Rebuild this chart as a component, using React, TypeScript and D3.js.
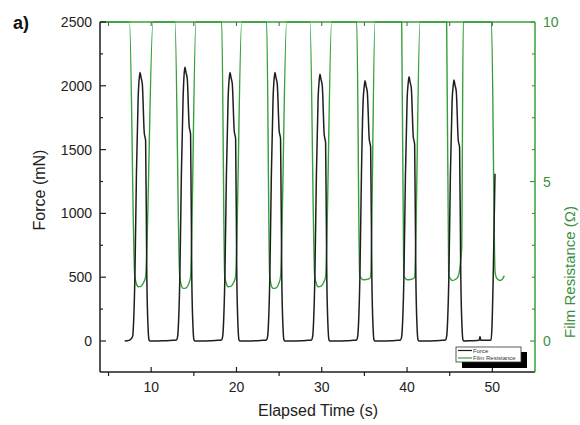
import React from "react";
import * as d3 from "d3";

// axis ticks
const timeTicks = [10, 20, 30, 40, 50];
const timeMinorTicks = [5, 15, 25, 35, 45];
const forceTicks = [0, 500, 1000, 1500, 2000, 2500];
const forceMinorTicks = [250, 750, 1250, 1750, 2250];
const resTicks = [0, 5, 10];
const resMinorTicks = [1, 2, 3, 4, 6, 7, 8, 9];

// Force (mN) vs elapsed time (s)
const force: [number, number][] = [
  [6.9, 0], [7.4, 5], [7.69, 20], [7.84, 40], [7.94, 150], [8.09, 500], [8.27, 1300], [8.47, 1900],
  [8.61, 2065], [8.69, 2105], [8.81, 2065], [8.96, 2015], [9.19, 1630], [9.27, 1600], [9.35, 1570],
  [9.49, 500], [9.64, 100], [9.74, 10], [9.84, 0],
  [10.5, 0], [11.5, 2], [12.5, 5],
  [12.96, 8], [13.11, 40], [13.21, 150], [13.36, 500], [13.54, 1300], [13.74, 1900], [13.88, 2105],
  [13.96, 2145], [14.08, 2105], [14.23, 2055], [14.46, 1680], [14.54, 1650], [14.62, 1620],
  [14.76, 500], [14.91, 100], [15.01, 10], [15.11, 0],
  [16.0, 0], [17.0, 2], [17.8, 5],
  [18.24, 8], [18.39, 40], [18.49, 150], [18.64, 500], [18.82, 1300], [19.02, 1900], [19.16, 2065],
  [19.24, 2105], [19.36, 2065], [19.51, 2015], [19.74, 1645], [19.82, 1615], [19.9, 1585],
  [20.04, 500], [20.19, 100], [20.29, 10], [20.39, 0],
  [21.3, 0], [22.3, 2], [23.1, 5],
  [23.51, 8], [23.66, 40], [23.76, 150], [23.91, 500], [24.09, 1300], [24.29, 1900], [24.43, 2065],
  [24.51, 2105], [24.63, 2065], [24.78, 2015], [25.01, 1645], [25.09, 1615], [25.17, 1585],
  [25.31, 500], [25.46, 100], [25.56, 10], [25.66, 0],
  [26.6, 0], [27.6, 2], [28.4, 5],
  [28.79, 8], [28.94, 40], [29.04, 150], [29.19, 500], [29.37, 1300], [29.57, 1900], [29.71, 2050],
  [29.79, 2090], [29.91, 2050], [30.06, 2000], [30.29, 1615], [30.37, 1585], [30.45, 1555],
  [30.59, 500], [30.74, 100], [30.84, 10], [30.94, 0],
  [31.9, 0], [32.9, 2], [33.7, 5],
  [34.07, 8], [34.22, 40], [34.32, 150], [34.47, 500], [34.65, 1300], [34.85, 1880], [34.99, 2000],
  [35.07, 2040], [35.19, 2000], [35.34, 1950], [35.57, 1580], [35.65, 1550], [35.73, 1520],
  [35.87, 500], [36.02, 100], [36.12, 10], [36.22, 0],
  [37.1, 0], [38.1, 2], [38.9, 5],
  [39.23, 8], [39.38, 40], [39.48, 150], [39.63, 500], [39.81, 1300], [40.01, 1900], [40.15, 2030],
  [40.23, 2070], [40.35, 2030], [40.5, 1980], [40.73, 1600], [40.81, 1570], [40.89, 1540],
  [41.03, 500], [41.18, 100], [41.28, 10], [41.38, 0],
  [42.3, 0], [43.3, 2], [44.1, 5],
  [44.5, 8], [44.65, 40], [44.75, 150], [44.9, 500], [45.08, 1300], [45.28, 1880], [45.42, 2005],
  [45.5, 2045], [45.62, 2005], [45.77, 1955], [46.0, 1575], [46.08, 1545], [46.16, 1515],
  [46.3, 500], [46.45, 100], [46.55, 10], [46.65, 0],
  [47.5, 2], [48.45, 5], [48.55, 35], [48.65, 5], [49.6, 5], [49.84, 5],
  [49.95, 100], [50.1, 500], [50.31, 1310],
];

// Film resistance (ohm) vs elapsed time (s), saturates at 10
const resistance: [number, number][] = [
  [4, 10], [7.46, 10], [8.07, 2.05], [8.24, 1.82], [8.49, 1.7], [8.84, 1.72], [9.14, 1.85], [9.34, 2.0], [10.21, 10],
  [12.79, 10], [13.34, 2.05], [13.51, 1.77], [13.76, 1.65], [14.11, 1.67], [14.41, 1.8], [14.61, 2.0], [15.25, 10],
  [18.27, 10], [18.62, 2.05], [18.79, 1.82], [19.04, 1.7], [19.39, 1.72], [19.69, 1.85], [19.89, 2.0], [20.61, 10],
  [23.54, 10], [23.89, 2.05], [24.06, 1.77], [24.31, 1.65], [24.66, 1.67], [24.96, 1.8], [25.16, 2.0], [25.88, 10],
  [28.62, 10], [29.17, 2.05], [29.34, 1.82], [29.59, 1.7], [29.94, 1.72], [30.24, 1.85], [30.44, 2.0], [31.16, 10],
  [34.1, 10], [34.45, 2.05], [34.62, 1.97], [34.87, 1.92], [35.22, 1.93], [35.52, 1.95], [35.72, 2.0], [36.24, 10],
  [39.37, 10], [39.61, 2.05], [39.78, 1.97], [40.03, 1.92], [40.38, 1.93], [40.68, 1.95], [40.88, 2.0], [41.52, 10],
  [44.64, 10], [44.88, 2.05], [45.05, 1.97], [45.3, 1.9], [45.65, 1.93], [45.95, 2.0], [46.4, 2.9], [46.59, 10],
  [49.9, 10], [50.32, 2.15], [50.55, 1.95], [50.9, 1.9], [51.2, 1.95], [51.4, 2.05],
];

const W = 580;
const H = 425;
const font = "'Liberation Sans', Arial, sans-serif";
const green = "#35a03a";
const greenText = "#3d8f3d";
const black = "#1e1e1e";

export default function App() {
  const x = d3.scaleLinear().domain([4, 55]).range([100, 535]);
  const yF = d3.scaleLinear().domain([-243, 2500]).range([372, 22]);
  const yR = d3.scaleLinear().domain([-0.97, 10]).range([372, 22]);

  const forceLine = d3
    .line<[number, number]>()
    .x((d) => x(d[0]))
    .y((d) => yF(d[1]))
    .curve(d3.curveMonotoneX);

  const resLine = d3
    .line<[number, number]>()
    .x((d) => x(d[0]))
    .y((d) => yR(d[1]))
    .curve(d3.curveMonotoneX);

  const [x0, x1] = x.range();
  const [yb, yt] = yF.range();

  return (
    <svg
      width={W}
      height={H}
      style={{ position: "absolute", left: 0, top: 0, background: "#fff" }}
      fontFamily={font}
    >
      <rect width={W} height={H} fill="#fff" />

      {/* data */}
      <path d={resLine(resistance) ?? ""} fill="none" stroke={green} strokeWidth={1.4} />
      <path d={forceLine(force) ?? ""} fill="none" stroke={black} strokeWidth={1.5} />

      {/* frame */}
      <line x1={x0} x2={x1} y1={yt} y2={yt} stroke={green} strokeWidth={1.5} />
      <line x1={x0} x2={x1} y1={yb} y2={yb} stroke={black} strokeWidth={1.5} />
      <line x1={x0} x2={x0} y1={yt} y2={yb} stroke={black} strokeWidth={1.5} />
      <line x1={x1} x2={x1} y1={yt} y2={yb} stroke={green} strokeWidth={1.5} />

      {/* bottom axis */}
      {timeTicks.map((t) => (
        <g key={"bt" + t}>
          <line x1={x(t)} x2={x(t)} y1={yb} y2={yb - 5} stroke={black} strokeWidth={1.2} />
          <text x={x(t)} y={392} fontSize={14} textAnchor="middle" fill="#222">
            {t}
          </text>
        </g>
      ))}
      {timeMinorTicks.map((t) => (
        <line key={"bm" + t} x1={x(t)} x2={x(t)} y1={yb} y2={yb + 4} stroke={black} strokeWidth={1.2} />
      ))}
      {/* top axis ticks */}
      {[...timeTicks, ...timeMinorTicks].map((t) => (
        <line key={"tt" + t} x1={x(t)} x2={x(t)} y1={yt} y2={yt + 4} stroke="#555" strokeWidth={1} />
      ))}

      {/* left axis */}
      {forceTicks.map((v) => (
        <g key={"lt" + v}>
          <line x1={x0} x2={x0 + 6} y1={yF(v)} y2={yF(v)} stroke={black} strokeWidth={1.2} />
          <text x={92} y={yF(v) + 5} fontSize={14} textAnchor="end" fill="#222">
            {v}
          </text>
        </g>
      ))}
      {forceMinorTicks.map((v) => (
        <line key={"lm" + v} x1={x0} x2={x0 + 3} y1={yF(v)} y2={yF(v)} stroke={black} strokeWidth={1.2} />
      ))}

      {/* right axis */}
      {resTicks.map((v) => (
        <g key={"rt" + v}>
          <line x1={x1} x2={x1 - 5} y1={yR(v)} y2={yR(v)} stroke={green} strokeWidth={1.2} />
          <text x={543} y={yR(v) + 5} fontSize={14} textAnchor="start" fill={greenText}>
            {v}
          </text>
        </g>
      ))}
      {resMinorTicks.map((v) => (
        <line key={"rm" + v} x1={x1} x2={x1 - 3} y1={yR(v)} y2={yR(v)} stroke={green} strokeWidth={1.2} />
      ))}

      {/* axis titles */}
      <text x={318} y={416} fontSize={16} textAnchor="middle" fill="#222">
        Elapsed Time (s)
      </text>
      <text transform="translate(45,190) rotate(-90)" fontSize={16} textAnchor="middle" fill="#222">
        Force (mN)
      </text>
      <text transform="translate(575,272) rotate(-90)" fontSize={15} textAnchor="middle" fill={greenText}>
        Film Resistance (Ω)
      </text>
      <text x={13} y={29} fontSize={18} fontWeight="bold" fill="#111">
        a)
      </text>

      {/* legend */}
      <rect x={462} y={352} width={65} height={16} fill="#000" />
      <rect x={456} y={347} width={65} height={15} fill="#fff" stroke="#333" strokeWidth={0.8} />
      <line x1={458} x2={472} y1={350.5} y2={350.5} stroke={black} strokeWidth={1.2} />
      <text x={473} y={352.5} fontSize={6} fill="#333">
        Force
      </text>
      <line x1={458} x2={472} y1={358} y2={358} stroke={green} strokeWidth={1.2} />
      <text x={473} y={360} fontSize={6} fill="#333">
        Film Resistance
      </text>
    </svg>
  );
}
